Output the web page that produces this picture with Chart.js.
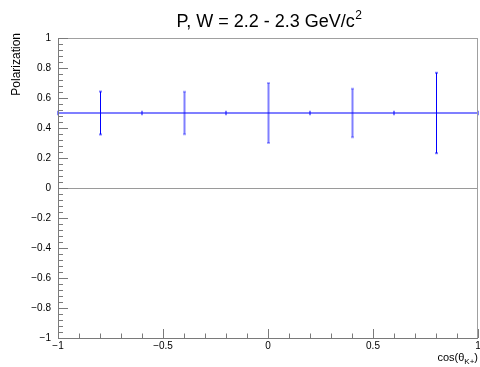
<!DOCTYPE html>
<html lang="en">
<head>
    <meta charset="UTF-8">
    <title>Polarization</title>
    <script src="https://cdn.jsdelivr.net/npm/chart.js"></script>
    <style>
        body { margin: 0; padding: 0; background: white; }
        #plot { display: block; }
    </style>
</head>
<body>
    <canvas id="plot" width="480" height="367"></canvas>
    <script>
        // measured points
        const cosTheta = [-0.8, -0.4, 0, 0.4, 0.8];
        const polValues = [0.5, 0.5, 0.5, 0.5, 0.5];
        const polErrors = [0.143, 0.142, 0.2, 0.162, 0.268];

        // fitted constant
        const fitX = [-1, -0.6, -0.2, 0.2, 0.6, 1];
        const fitY = [0.5, 0.5, 0.5, 0.5, 0.5, 0.5];
        const fitErr = [0.015, 0.015, 0.015, 0.015, 0.015, 0.015];

        const xTicks = [-1, -0.5, 0, 0.5, 1];
        const yTicks = [-1, -0.8, -0.6, -0.4, -0.2, 0, 0.2, 0.4, 0.6, 0.8, 1];

        const FONT = '"Liberation Sans", Arial, Helvetica, sans-serif';
        const solidBars = [true, false, false, false, true];

        function fmt(v) {
            const n = Number(v.toFixed(2));
            return n < 0 ? '\u2212' + Math.abs(n) : String(n);
        }

        const rootStyle = {
            id: 'rootStyle',
            beforeDatasetsDraw(chart) {
                const { ctx, chartArea: a, scales: { x, y } } = chart;
                ctx.save();
                // zero line
                ctx.strokeStyle = '#9a9a9a';
                ctx.lineWidth = 1;
                const y0 = Math.round(y.getPixelForValue(0)) + 0.5;
                ctx.beginPath();
                ctx.moveTo(a.left, y0);
                ctx.lineTo(a.right, y0);
                ctx.stroke();
                ctx.restore();
            },
            afterDatasetsDraw(chart) {
                const { ctx, scales: { x, y } } = chart;
                ctx.save();
                // fit point ticks
                ctx.strokeStyle = 'rgba(0,0,255,0.5)';
                ctx.lineWidth = 2;
                fitX.forEach((v, i) => {
                    const px = x.getPixelForValue(v);
                    ctx.beginPath();
                    ctx.moveTo(px, y.getPixelForValue(fitY[i] - fitErr[i]));
                    ctx.lineTo(px, y.getPixelForValue(fitY[i] + fitErr[i]));
                    ctx.stroke();
                });
                // error bars
                cosTheta.forEach((v, i) => {
                    const px = Math.round(x.getPixelForValue(v)) + 0.5;
                    const top = y.getPixelForValue(polValues[i] + polErrors[i]);
                    const bot = y.getPixelForValue(polValues[i] - polErrors[i]);
                    if (solidBars[i]) {
                        ctx.strokeStyle = '#0000ff';
                        ctx.fillStyle = 'rgba(0,0,255,0.5)';
                        ctx.lineWidth = 1;
                    } else {
                        ctx.strokeStyle = 'rgba(0,0,255,0.5)';
                        ctx.fillStyle = 'rgba(0,0,255,0.3)';
                        ctx.lineWidth = 2;
                    }
                    ctx.beginPath();
                    ctx.moveTo(px, top);
                    ctx.lineTo(px, bot);
                    ctx.stroke();
                    ctx.fillRect(px - 1.5, top - 1, 3, 2);
                    ctx.fillRect(px - 1.5, bot - 1, 3, 2);
                });
                ctx.restore();
            },
            afterDraw(chart) {
                const { ctx, chartArea: a, scales: { x, y } } = chart;
                ctx.save();
                // frame
                ctx.strokeStyle = '#a0a0a0';
                ctx.lineWidth = 1;
                ctx.strokeRect(a.left + 0.5, a.top + 0.5, a.right - a.left - 1, a.bottom - a.top);
                // axes + ticks
                ctx.strokeStyle = '#7a7a7a';
                ctx.beginPath();
                ctx.moveTo(a.left + 0.5, a.top);
                ctx.lineTo(a.left + 0.5, a.bottom + 0.5);
                ctx.lineTo(a.right, a.bottom + 0.5);
                for (let k = 0; k <= 50; k++) {
                    const v = -1 + k * 0.04;
                    const py = Math.round(y.getPixelForValue(v)) + 0.5;
                    const len = k % 5 === 0 ? 10 : 5;
                    ctx.moveTo(a.left, py);
                    ctx.lineTo(a.left + len, py);
                }
                for (let k = 0; k <= 20; k++) {
                    const v = -1 + k * 0.1;
                    const px = Math.round(x.getPixelForValue(v)) + 0.5;
                    const len = k % 5 === 0 ? 9 : 4.5;
                    ctx.moveTo(px, a.bottom);
                    ctx.lineTo(px, a.bottom - len);
                }
                ctx.stroke();

                ctx.fillStyle = '#000';
                // title with superscript
                const main = 'P, W = 2.2 - 2.3 GeV/c';
                ctx.font = '18px ' + FONT;
                const wMain = ctx.measureText(main).width;
                ctx.font = '12px ' + FONT;
                const wSup = ctx.measureText('2').width;
                let tx = 269 - (wMain + wSup) / 2;
                ctx.textBaseline = 'alphabetic';
                ctx.textAlign = 'left';
                ctx.font = '18px ' + FONT;
                ctx.fillText(main, tx, 27);
                ctx.font = '12px ' + FONT;
                ctx.fillText('2', tx + wMain + 0.5, 19);

                // x title: cos(θ_K+)
                const p1 = 'cos(\u03b8', p2 = 'K+', p3 = ')';
                ctx.font = '11px ' + FONT;
                const w1 = ctx.measureText(p1).width, w3 = ctx.measureText(p3).width;
                ctx.font = '8px ' + FONT;
                const w2 = ctx.measureText(p2).width;
                let sx = a.right - (w1 + w2 + w3);
                ctx.font = '11px ' + FONT;
                ctx.fillText(p1, sx, 361);
                ctx.font = '8px ' + FONT;
                ctx.fillText(p2, sx + w1, 364);
                ctx.font = '11px ' + FONT;
                ctx.fillText(p3, sx + w1 + w2, 361);

                // y title
                ctx.translate(17, 33);
                ctx.rotate(-Math.PI / 2);
                ctx.font = '12px ' + FONT;
                ctx.textAlign = 'right';
                ctx.textBaseline = 'middle';
                ctx.fillText('Polarization', 0, 0);
                ctx.restore();
            }
        };

        const tickFont = { family: FONT, size: 10 };

        new Chart(document.getElementById('plot'), {
            type: 'scatter',
            data: {
                datasets: [
                    {
                        label: 'fit',
                        data: fitX.map((v, i) => ({ x: v, y: fitY[i] })),
                        showLine: true,
                        borderColor: 'rgba(0,0,255,0.5)',
                        borderWidth: 2,
                        pointRadius: 0
                    },
                    {
                        label: 'P',
                        data: cosTheta.map((v, i) => ({ x: v, y: polValues[i] })),
                        pointRadius: 0,
                        showLine: false
                    }
                ]
            },
            options: {
                responsive: false,
                animation: false,
                devicePixelRatio: 1,
                layout: { padding: { top: 38, right: 2, left: 0, bottom: 0 } },
                plugins: { legend: { display: false }, tooltip: { enabled: false } },
                scales: {
                    x: {
                        type: 'linear',
                        min: -1, max: 1,
                        afterBuildTicks: s => { s.ticks = xTicks.map(v => ({ value: v })); },
                        afterFit: s => { s.height = 29; s.paddingLeft = 0; s.paddingRight = 0; },
                        ticks: { font: tickFont, color: '#000', padding: 2, maxRotation: 0, autoSkip: false, callback: fmt },
                        grid: { display: false, drawTicks: false },
                        border: { display: false }
                    },
                    y: {
                        min: -1, max: 1,
                        afterBuildTicks: s => { s.ticks = yTicks.map(v => ({ value: v })); },
                        afterFit: s => { s.width = 58; s.paddingTop = 0; s.paddingBottom = 0; },
                        ticks: { font: tickFont, color: '#000', padding: 7, autoSkip: false, callback: fmt },
                        grid: { display: false, drawTicks: false },
                        border: { display: false }
                    }
                }
            },
            plugins: [rootStyle]
        });
    </script>
</body>
</html>
